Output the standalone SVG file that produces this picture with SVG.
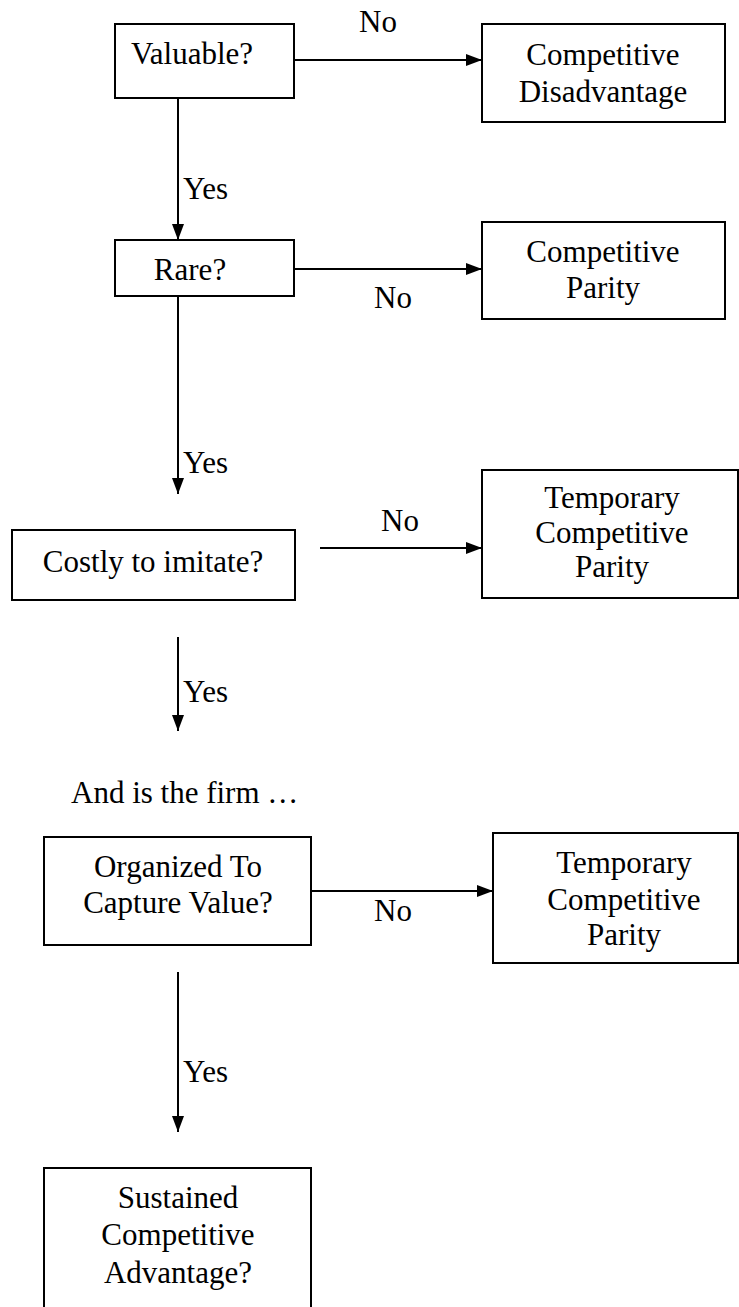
<svg xmlns="http://www.w3.org/2000/svg" width="739" height="1307" viewBox="0 0 739 1307">
  <style>
    .box { fill: #ffffff; stroke: #000000; stroke-width: 2; }
    .edge { stroke: #000000; stroke-width: 2; fill: none; marker-end: url(#arrow); }
  </style>
  <defs>
    <marker id="arrow" viewBox="0 0 16 12" refX="16" refY="6" markerWidth="16" markerHeight="12" markerUnits="userSpaceOnUse" orient="auto">
      <path d="M0,0 L16,6 L0,12 Z" fill="#000000"/>
    </marker>
  </defs>

  <rect width="739" height="1307" fill="#ffffff"/>

  <g font-family="Liberation Serif, Times New Roman, DejaVu Serif, serif" font-size="31" fill="#000000">

  <!-- connectors -->
  <g id="connectors">
    <line class="edge" x1="294" y1="60" x2="482" y2="60"/>
    <line class="edge" x1="178" y1="98" x2="178" y2="240"/>
    <line class="edge" x1="294" y1="269" x2="482" y2="269"/>
    <line class="edge" x1="178" y1="296" x2="178" y2="494"/>
    <line class="edge" x1="320" y1="548" x2="482" y2="548"/>
    <line class="edge" x1="178" y1="637" x2="178" y2="731"/>
    <line class="edge" x1="311" y1="891" x2="493" y2="891"/>
    <line class="edge" x1="178" y1="972" x2="178" y2="1132"/>
    <text text-anchor="middle" x="378" y="32">No</text>
    <text x="183" y="199">Yes</text>
    <text text-anchor="middle" x="393" y="308">No</text>
    <text x="183" y="473">Yes</text>
    <text text-anchor="middle" x="400" y="531">No</text>
    <text x="183" y="702">Yes</text>
    <text text-anchor="middle" x="393" y="921">No</text>
    <text x="183" y="1082">Yes</text>
  </g>

  <g id="valuable">
    <rect class="box" x="115" y="24" width="179" height="74"/>
    <text text-anchor="middle" x="192" y="64">Valuable?</text>
  </g>

  <g id="disadvantage">
    <rect class="box" x="482" y="24" width="243" height="98"/>
    <text text-anchor="middle" x="603" y="65">Competitive</text>
    <text text-anchor="middle" x="603" y="102">Disadvantage</text>
  </g>

  <g id="rare">
    <rect class="box" x="115" y="240" width="179" height="56"/>
    <text text-anchor="middle" x="190" y="280">Rare?</text>
  </g>

  <g id="parity">
    <rect class="box" x="482" y="222" width="243" height="97"/>
    <text text-anchor="middle" x="603" y="262">Competitive</text>
    <text text-anchor="middle" x="603" y="298">Parity</text>
  </g>

  <g id="costly">
    <rect class="box" x="12" y="530" width="283" height="70"/>
    <text text-anchor="middle" x="153" y="572">Costly to imitate?</text>
  </g>

  <g id="temporary-parity-1">
    <rect class="box" x="482" y="470" width="256" height="128"/>
    <text text-anchor="middle" x="612" y="508">Temporary</text>
    <text text-anchor="middle" x="612" y="543">Competitive</text>
    <text text-anchor="middle" x="612" y="577">Parity</text>
  </g>

  <g id="firm-note">
    <text x="71" y="803">And is the firm …</text>
  </g>

  <g id="organized">
    <rect class="box" x="44" y="837" width="267" height="108"/>
    <text text-anchor="middle" x="178" y="877">Organized To</text>
    <text text-anchor="middle" x="178" y="913">Capture Value?</text>
  </g>

  <g id="temporary-parity-2">
    <rect class="box" x="493" y="833" width="245" height="130"/>
    <text text-anchor="middle" x="624" y="873">Temporary</text>
    <text text-anchor="middle" x="624" y="910">Competitive</text>
    <text text-anchor="middle" x="624" y="945">Parity</text>
  </g>

  <g id="sustained">
    <rect class="box" x="44" y="1168" width="267" height="160"/>
    <text text-anchor="middle" x="178" y="1208">Sustained</text>
    <text text-anchor="middle" x="178" y="1245">Competitive</text>
    <text text-anchor="middle" x="178" y="1283">Advantage?</text>
  </g>

  </g>
</svg>
